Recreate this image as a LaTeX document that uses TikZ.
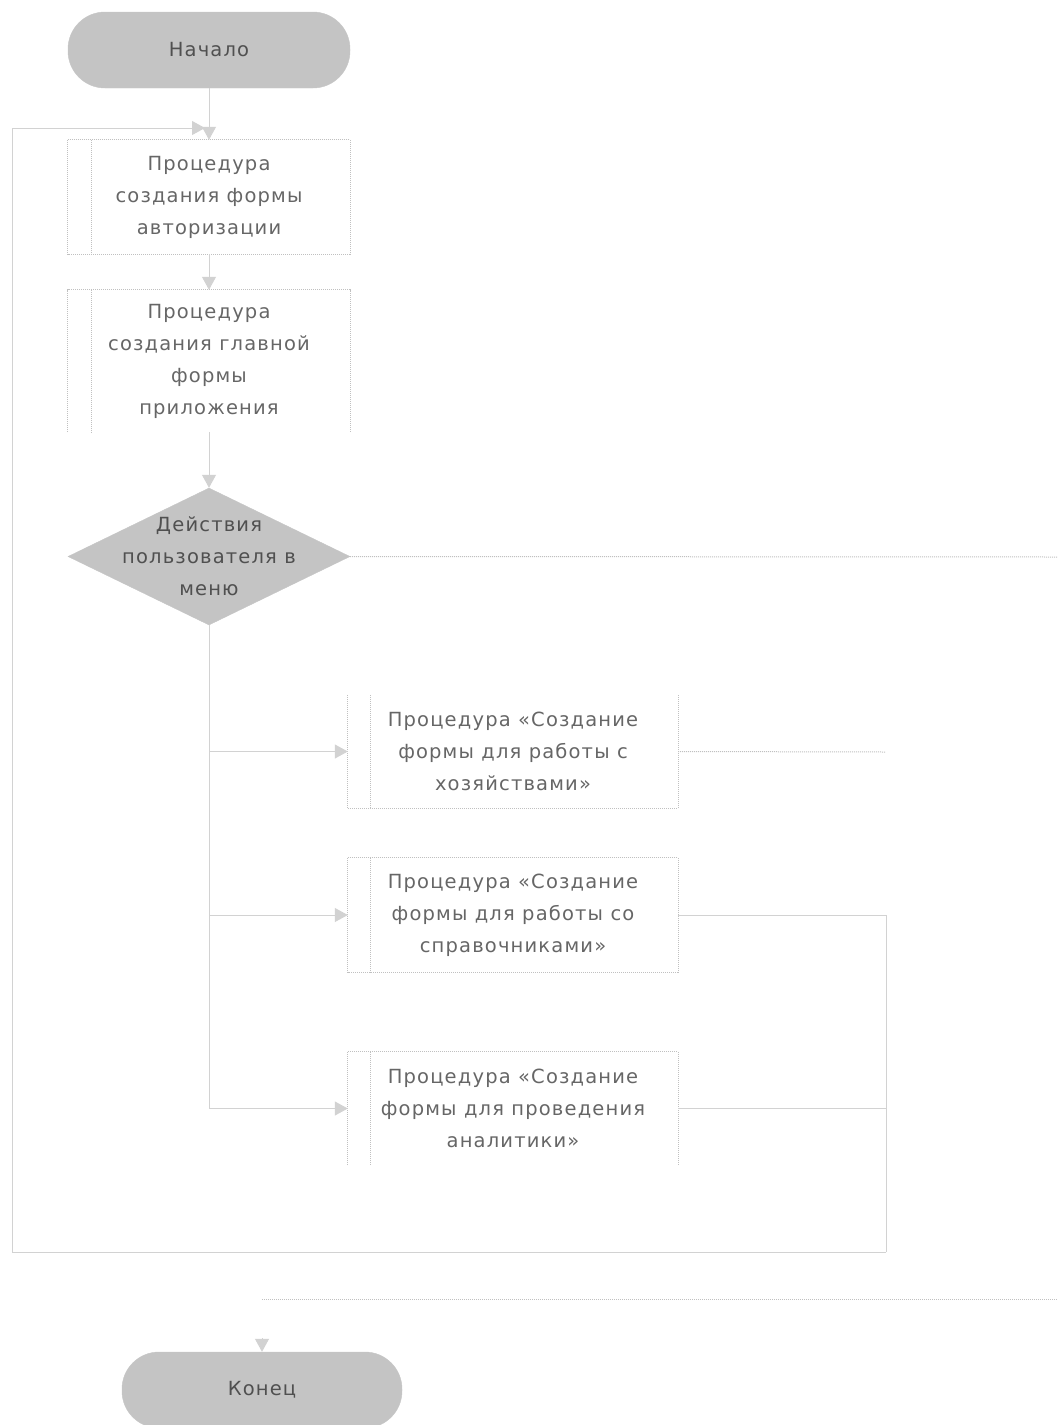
\documentclass[tikz,border=0pt]{standalone}
\usepackage{fontspec}
\setmainfont{DejaVu Sans}
\newfontfamily\df[LetterSpace=6]{DejaVu Sans}
\usetikzlibrary{arrows.meta,shapes.geometric}
\definecolor{ln}{HTML}{D2D2D2}
\definecolor{bx}{HTML}{C0C0C0}
\definecolor{tx}{HTML}{666666}
\definecolor{fl}{HTML}{C4C4C4}
\definecolor{dk}{HTML}{505050}
\tikzset{
 txt/.style={font=\df\fontsize{19.5}{32}\selectfont, align=center, inner sep=0pt},
 term/.style={txt, rectangle, rounded corners=37pt, fill=fl, draw=fl, minimum width=282pt, minimum height=76pt, text=dk},
 proc/.style={txt, rectangle, minimum width=282pt, minimum height=114pt, text=tx},
 dec/.style={diamond, minimum width=282pt, minimum height=137pt, inner sep=0pt, fill=fl, draw=fl},
 edge/.style={draw=ln, line width=1pt},
 flow/.style={edge, -{Triangle[length=13pt,width=14pt,fill=ln]}},
 dots/.style={draw=bx, densely dotted, line width=1pt},
 boxln/.style={draw=bx, densely dotted, line width=1pt},
}
\begin{document}
\begin{tikzpicture}[x=1pt,y=-1pt]
\useasboundingbox (0,0) rectangle (1058,1425);
\begin{scope}
\clip (0,0) rectangle (1058,1425);
\node[term] (start) at (209,50) {Начало};
\node[proc] (p1) at (209,197) {Процедура\\создания формы\\авторизации};
\node[proc, minimum height=142pt] (p2) at (209,361) {Процедура\\создания главной\\формы\\приложения};
\node[dec] (dec) at (209,556.5) {};
\node[txt, text=dk] (dect) at (dec.center) {Действия\\пользователя в\\меню};
\node[proc, minimum width=330pt, minimum height=113pt] (p3) at (513,751.5) {Процедура «Создание\\формы для работы с\\хозяйствами»};
\node[proc, minimum width=330pt, minimum height=114pt] (p4) at (513,915) {Процедура «Создание\\формы для работы со\\справочниками»};
\node[proc, minimum width=330pt, minimum height=113pt] (p5) at (513,1108.5) {Процедура «Создание\\формы для проведения\\аналитики»};
\node[term, minimum width=280pt] (end) at (262,1390) {Конец};

% box borders
\draw[boxln] (p1.north west) rectangle (p1.south east);
\draw[boxln] ([xshift=24pt]p1.north west) -- ([xshift=24pt]p1.south west);
\draw[boxln] (p2.south west) -- (p2.north west) -- (p2.north east) -- (p2.south east);
\draw[boxln] ([xshift=24pt]p2.north west) -- ([xshift=24pt]p2.south west);
\draw[boxln] (p3.north west) -- (p3.south west) -- (p3.south east) -- (p3.north east);
\draw[boxln] ([xshift=23pt]p3.north west) -- ([xshift=23pt]p3.south west);
\draw[boxln] (p4.north west) rectangle (p4.south east);
\draw[boxln] ([xshift=23pt]p4.north west) -- ([xshift=23pt]p4.south west);
\draw[boxln] (p5.south west) -- (p5.north west) -- (p5.north east) -- (p5.south east);
\draw[boxln] ([xshift=23pt]p5.north west) -- ([xshift=23pt]p5.south west);

% named free ends
\coordinate (rr) at (886,1252);
\coordinate (ll) at (12,1252);
\coordinate (lt) at (12,128);
\coordinate (jn) at (205,128);
\coordinate (decend) at (1058,557);
\coordinate (p3end) at (886,752);
\coordinate (bl) at (262,1299);
\coordinate (br) at (1058,1299);
\coordinate (ea) at (262,1338);

% connectors
\draw[flow] (start.south) -- (p1.north);
\draw[flow] (p1.south) -- (p2.north);
\draw[flow] (p2.south) -- (dec.north);
\draw[dots] (dec.east) -- (decend);
\draw[flow] (dec.south) |- (p3.west);
\draw[flow] (dec.south) |- (p4.west);
\draw[flow] (dec.south) |- (p5.west);
\draw[dots] (p3.east) -- (p3end);
\draw[edge] (p4.east) -| (rr);
\draw[edge] (p5.east) -| (rr);
\draw[flow] (rr) -- (ll) -- (lt) -- (jn);
\draw[dots] (bl) -- (br);
\draw[flow] (ea) -- (end.north);
\end{scope}
\end{tikzpicture}
\end{document}
